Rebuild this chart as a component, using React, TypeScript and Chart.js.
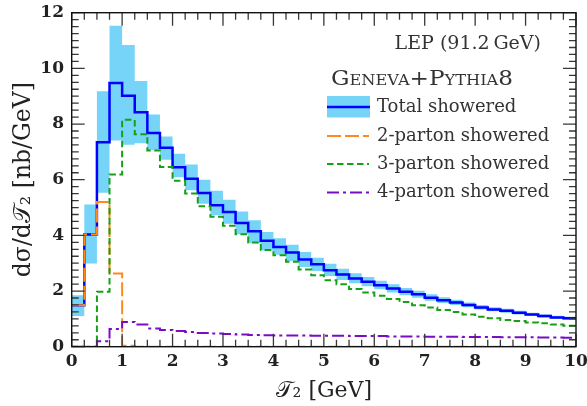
import React, { useEffect, useRef } from "react";
import { Chart, registerables } from "chart.js";

Chart.register(...registerables);

// Bin edges of T2 [GeV] (bin width 0.25 GeV)
const binEdges = [
  0, 0.25, 0.5, 0.75, 1, 1.25, 1.5, 1.75, 2, 2.25, 2.5, 2.75, 3, 3.25, 3.5, 3.75,
  4, 4.25, 4.5, 4.75, 5, 5.25, 5.5, 5.75, 6, 6.25, 6.5, 6.75, 7, 7.25, 7.5, 7.75,
  8, 8.25, 8.5, 8.75, 9, 9.25, 9.5, 9.75, 10,
];

// Total showered (central)
const totalShowered = [
  1.49, 4.03, 7.35, 9.47, 9.02, 8.42, 7.68, 7.15, 6.45, 6.03,
  5.52, 5.08, 4.84, 4.44, 4.15, 3.81, 3.58, 3.38, 3.13, 2.96,
  2.75, 2.59, 2.45, 2.33, 2.21, 2.09, 1.97, 1.88, 1.76, 1.67,
  1.59, 1.50, 1.41, 1.34, 1.29, 1.22, 1.16, 1.10, 1.05, 1.02,
];

// Uncertainty band (upper / lower)
const bandUpper = [
  1.85, 5.11, 9.18, 11.53, 10.84, 9.55, 8.34, 7.55, 6.93, 6.55,
  6.00, 5.60, 5.28, 4.86, 4.54, 4.12, 3.90, 3.66, 3.40, 3.20,
  2.98, 2.80, 2.64, 2.50, 2.37, 2.24, 2.11, 2.01, 1.88, 1.78,
  1.69, 1.59, 1.50, 1.42, 1.36, 1.29, 1.22, 1.16, 1.11, 1.08,
];
const bandLower = [
  1.10, 2.99, 5.53, 7.41, 7.26, 7.31, 7.07, 6.72, 6.09, 5.62,
  5.14, 4.72, 4.42, 4.04, 3.72, 3.46, 3.30, 3.08, 2.86, 2.72,
  2.54, 2.40, 2.28, 2.17, 2.06, 1.95, 1.85, 1.76, 1.65, 1.57,
  1.50, 1.42, 1.34, 1.27, 1.22, 1.16, 1.10, 1.05, 1.00, 0.97,
];

// 2-parton showered
const parton2 = [
  1.49, 4.03, 5.20, 2.63, 0.03, 0, 0, 0, 0, 0,
  0, 0, 0, 0, 0, 0, 0, 0, 0, 0,
  0, 0, 0, 0, 0, 0, 0, 0, 0, 0,
  0, 0, 0, 0, 0, 0, 0, 0, 0, 0,
];

// 3-parton showered
const parton3 = [
  0, 0, 1.97, 6.19, 8.15, 7.63, 7.05, 6.46, 5.96, 5.50,
  5.05, 4.67, 4.35, 4.04, 3.74, 3.47, 3.29, 3.05, 2.77, 2.57,
  2.39, 2.24, 2.07, 1.95, 1.83, 1.71, 1.61, 1.49, 1.41, 1.32,
  1.25, 1.16, 1.08, 1.02, 0.96, 0.92, 0.87, 0.84, 0.80, 0.75,
];

// 4-parton showered
const parton4 = [
  0, 0, 0.20, 0.64, 0.89, 0.80, 0.65, 0.60, 0.56, 0.53,
  0.49, 0.47, 0.46, 0.44, 0.42, 0.41, 0.40, 0.40, 0.40, 0.39,
  0.39, 0.39, 0.38, 0.38, 0.38, 0.37, 0.37, 0.37, 0.36, 0.36,
  0.36, 0.35, 0.35, 0.35, 0.34, 0.34, 0.34, 0.33, 0.33, 0.32,
];

const xTickValues = [0, 1, 2, 3, 4, 5, 6, 7, 8, 9, 10];
const yTickValues = [0, 2, 4, 6, 8, 10, 12];
// minor tick positions (every 0.25)
const xMinorTicks = binEdges;
const yMinorTicks = [
  0, 0.25, 0.5, 0.75, 1, 1.25, 1.5, 1.75, 2, 2.25, 2.5, 2.75, 3, 3.25, 3.5, 3.75,
  4, 4.25, 4.5, 4.75, 5, 5.25, 5.5, 5.75, 6, 6.25, 6.5, 6.75, 7, 7.25, 7.5, 7.75,
  8, 8.25, 8.5, 8.75, 9, 9.25, 9.5, 9.75, 10, 10.25, 10.5, 10.75, 11, 11.25, 11.5,
  11.75, 12,
];

const legendLabels = [
  "Total showered",
  "2-parton showered",
  "3-parton showered",
  "4-parton showered",
];
const headerLabel = "LEP (91.2\u2009GeV)";
const generatorLabel = "Geneva+Pythia8";

const BAND = "#76d4f9";
const BLUE = "#0000ff";
const ORANGE = "#ff8a1c";
const GREEN = "#15a015";
const PURPLE = "#7a0cc6";
const FONT = '"DejaVu Serif", "Liberation Serif", serif';

const toSteps = (values: number[]) =>
  binEdges.map((x, i) => ({ x, y: values[Math.min(i, values.length - 1)] }));

const decorPlugin = {
  id: "decor",
  afterDraw(chart: any) {
    const ctx = chart.ctx as CanvasRenderingContext2D;
    const area = chart.chartArea;
    const left = area.left;
    const right = area.right;
    const top = area.top;
    const bottom = area.bottom;
    const xs = chart.scales.x;
    const ys = chart.scales.y;
    ctx.save();
    ctx.setLineDash([]);
    // inward ticks on all four sides
    ctx.strokeStyle = "#383838";
    ctx.lineWidth = 1.3;
    ctx.lineCap = "butt";
    ctx.beginPath();
    xMinorTicks.forEach((v: number) => {
      const px = xs.getPixelForValue(v);
      const len = Number.isInteger(v) ? 13 : 7;
      ctx.moveTo(px, bottom);
      ctx.lineTo(px, bottom - len);
      ctx.moveTo(px, top);
      ctx.lineTo(px, top + len);
    });
    yMinorTicks.forEach((v: number) => {
      const py = ys.getPixelForValue(v);
      const len = v % 2 === 0 ? 13 : 7;
      ctx.moveTo(left, py);
      ctx.lineTo(left + len, py);
      ctx.moveTo(right, py);
      ctx.lineTo(right - len, py);
    });
    ctx.stroke();
    // frame
    ctx.strokeStyle = "#111";
    ctx.lineWidth = 1.4;
    ctx.strokeRect(left, top, right - left, bottom - top);

    // header texts
    ctx.fillStyle = "#333";
    ctx.textBaseline = "middle";
    ctx.textAlign = "right";
    ctx.font = `19px ${FONT}`;
    ctx.fillText(headerLabel, 541, 44);

    ctx.textAlign = "left";
    ctx.font = `small-caps 20px ${FONT}`;
    const w = ctx.measureText(generatorLabel).width;
    const target = 182;
    ctx.save();
    ctx.translate(331, 80);
    ctx.scale(Math.min(1.4, target / w), 1);
    ctx.fillText(generatorLabel, 0, 0);
    ctx.restore();

    // legend entries
    const rows = [107, 136, 164, 192.5];
    const x0 = 327;
    const x1 = 369;
    ctx.fillStyle = BAND;
    ctx.fillRect(x0, 96, 43, 21.5);
    const styles: [string, number, number[]][] = [
      [BLUE, 2.5, []],
      [ORANGE, 2, [14, 4]],
      [GREEN, 2, [6.5, 3.5]],
      [PURPLE, 2, [12, 4, 3, 4]],
    ];
    styles.forEach(([c, lw, dash], i) => {
      ctx.strokeStyle = c;
      ctx.lineWidth = lw;
      ctx.setLineDash(dash);
      ctx.beginPath();
      ctx.moveTo(x0, rows[i]);
      ctx.lineTo(i === 0 ? 370 : x1, rows[i]);
      ctx.stroke();
    });
    ctx.setLineDash([]);
    ctx.fillStyle = "#333";
    ctx.font = `18px ${FONT}`;
    legendLabels.forEach((t, i) => ctx.fillText(t, 377, rows[i]));
    ctx.restore();
  },
};

export default function App() {
  const canvasRef = useRef<HTMLCanvasElement | null>(null);

  useEffect(() => {
    document.body.style.margin = "0";
    const canvas = canvasRef.current;
    if (!canvas) return;
    const lineCommon = {
      stepped: "before" as const,
      pointRadius: 0,
      pointHoverRadius: 0,
      borderJoinStyle: "miter" as const,
      borderCapStyle: "butt" as const,
      tension: 0,
    };
    const chart = new Chart(canvas, {
      type: "line",
      data: {
        datasets: [
          {
            label: "band upper",
            data: toSteps(bandUpper),
            ...lineCommon,
            borderWidth: 0,
            borderColor: "rgba(0,0,0,0)",
            backgroundColor: BAND,
            fill: "+1",
            order: 10,
          },
          {
            label: "band lower",
            data: toSteps(bandLower),
            ...lineCommon,
            borderWidth: 0,
            borderColor: "rgba(0,0,0,0)",
            fill: false,
            order: 9,
          },
          {
            label: legendLabels[0],
            data: toSteps(totalShowered),
            ...lineCommon,
            borderColor: BLUE,
            borderWidth: 2.5,
            fill: false,
            order: 5,
          },
          {
            label: legendLabels[1],
            data: toSteps(parton2),
            ...lineCommon,
            borderColor: ORANGE,
            borderWidth: 2,
            borderDash: [14, 4],
            fill: false,
            order: 4,
          },
          {
            label: legendLabels[2],
            data: toSteps(parton3),
            ...lineCommon,
            borderColor: GREEN,
            borderWidth: 2,
            borderDash: [6.5, 3.5],
            fill: false,
            order: 3,
          },
          {
            label: legendLabels[3],
            data: toSteps(parton4),
            ...lineCommon,
            borderColor: PURPLE,
            borderWidth: 2,
            borderDash: [12, 4, 3, 4],
            fill: false,
            order: 2,
          },
        ],
      },
      options: {
        animation: false,
        responsive: true,
        maintainAspectRatio: false,
        events: [],
        layout: { padding: { top: 12.7, right: 11, left: 0, bottom: 0 } },
        plugins: {
          legend: { display: false },
          tooltip: { enabled: false },
          title: { display: false },
        },
        scales: {
          x: {
            type: "linear",
            min: 0,
            max: 10,
            afterBuildTicks: (s: any) => {
              s.ticks = xTickValues.map((v) => ({ value: v }));
            },
            afterFit: (s: any) => {
              s.height = 59.3;
              s.paddingLeft = 0;
              s.paddingRight = 0;
            },
            grid: { display: false, drawTicks: false },
            border: { display: false },
            ticks: {
              autoSkip: false,
              maxRotation: 0,
              padding: 4.8,
              color: "#222",
              font: { family: FONT, size: 17, weight: "bold" },
            },
            title: {
              display: true,
              text: "\u{1D4AF}\u2082 [GeV]",
              color: "#222",
              font: { family: FONT, size: 22 },
              padding: { top: 0, bottom: 1.1 },
            },
          },
          y: {
            type: "linear",
            min: 0,
            max: 12,
            afterBuildTicks: (s: any) => {
              s.ticks = yTickValues.map((v) => ({ value: v }));
            },
            afterFit: (s: any) => {
              s.width = 71.7;
              s.paddingTop = 0;
              s.paddingBottom = 0;
            },
            grid: { display: false, drawTicks: false },
            border: { display: false },
            ticks: {
              autoSkip: false,
              padding: 7.7,
              color: "#222",
              font: { family: FONT, size: 17, weight: "bold" },
            },
            title: {
              display: true,
              text: "d\u03C3/d\u{1D4AF}\u2082 [nb/GeV]",
              color: "#222",
              font: { family: FONT, size: 23.5 },
              padding: { top: 10.2, bottom: 0 },
            },
          },
        },
      },
      plugins: [decorPlugin],
    });
    return () => chart.destroy();
  }, []);

  return (
    <div style={{ position: "relative", width: 587, height: 406 }}>
      <canvas ref={canvasRef} />
    </div>
  );
}
